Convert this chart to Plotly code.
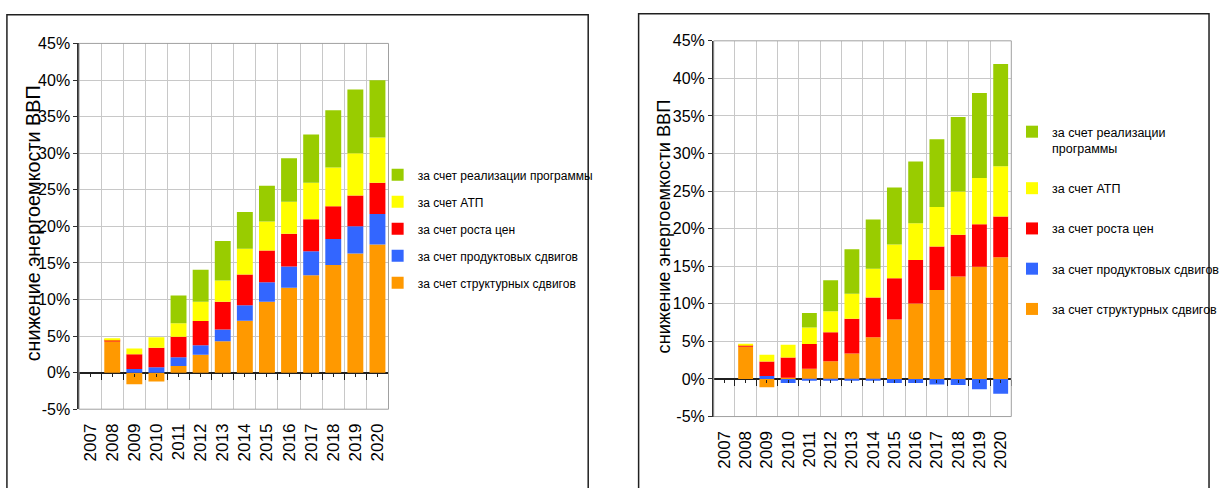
import plotly.graph_objects as go

years = ['2007', '2008', '2009', '2010', '2011', '2012', '2013',
         '2014', '2015', '2016', '2017', '2018', '2019', '2020']

series_names = ['за счет структурных сдвигов', 'за счет продуктовых сдвигов',
                'за счет роста цен', 'за счет АТП', 'за счет реализации программы']
series_names_right = ['за счет структурных сдвигов', 'за счет продуктовых сдвигов',
                      'за счет роста цен', 'за счет АТП', 'за счет реализации<br>программы']
colors = ['#FF9900', '#3366FF', '#FF0000', '#FFFF00', '#99CC00']

# Left chart (percent)
L_struct = [0, 4.3, -1.6, -1.2, 0.9, 2.45, 4.3, 7.1, 9.7, 11.6, 13.3, 14.7, 16.3, 17.5]
L_prod = [0, 0, 0.5, 0.75, 1.2, 1.3, 1.6, 2.1, 2.65, 2.9, 3.3, 3.55, 3.7, 4.2]
L_price = [0, 0.2, 2.0, 2.65, 2.8, 3.3, 3.8, 4.2, 4.35, 4.5, 4.35, 4.5, 4.2, 4.25]
L_atp = [0, 0.2, 0.8, 1.45, 1.85, 2.65, 2.9, 3.55, 3.95, 4.35, 5.0, 5.3, 5.8, 6.2]
L_prog = [0, 0, 0, 0, 3.8, 4.35, 5.4, 5.0, 4.9, 5.95, 6.6, 7.8, 8.7, 7.8]

# Right chart (percent)
R_struct = [0, 4.3, -1.1, 0.15, 1.35, 2.35, 3.4, 5.55, 7.9, 10.05, 11.85, 13.65, 14.95, 16.2]
R_prod = [0, 0, 0.4, -0.55, -0.17, -0.17, -0.17, -0.17, -0.55, -0.55, -0.72, -0.8, -1.35, -1.95]
R_price = [0, 0.2, 1.92, 2.72, 3.32, 3.86, 4.6, 5.28, 5.5, 5.79, 5.79, 5.53, 5.64, 5.42]
R_atp = [0, 0.17, 0.9, 1.67, 2.18, 2.82, 3.34, 3.85, 4.49, 4.88, 5.26, 5.78, 6.17, 6.68]
R_prog = [0, 0, 0, 0, 1.93, 4.11, 5.91, 6.55, 7.58, 8.22, 8.99, 9.89, 11.3, 13.61]

y_ticks = [-5, 0, 5, 10, 15, 20, 25, 30, 35, 40, 45]
y_ticktext = ['%d%%' % v for v in y_ticks]
y_title = 'снижение энергоемкости ВВП'

FONT = 'Liberation Sans, Arial, sans-serif'
W, H = 1225, 488

fig = go.Figure()

left_data = [L_struct, L_prod, L_price, L_atp, L_prog]
right_data = [R_struct, R_prod, R_price, R_atp, R_prog]

for i, (vals, name, col) in enumerate(zip(left_data, series_names, colors)):
    fig.add_trace(go.Bar(x=years, y=vals, name=name, marker_color=col,
                         marker_line_width=0, width=0.72,
                         xaxis='x', yaxis='y', legend='legend',
                         legendgroup='L%d' % i, legendrank=10 - i, hoverinfo='skip'))
for i, (vals, name, col) in enumerate(zip(right_data, series_names_right, colors)):
    fig.add_trace(go.Bar(x=years, y=vals, name=name, marker_color=col,
                         marker_line_width=0, width=0.7,
                         xaxis='x2', yaxis='y2', legend='legend2',
                         legendgroup='R%d' % i, legendrank=10 - i, hoverinfo='skip'))

def px2x(p):
    return p / W

def px2y(p):
    return 1 - p / H

L_dom_x = [px2x(80), px2x(393)]
L_dom_y = [px2y(415.7), px2y(36.7)]
R_dom_x = [px2x(722), px2x(1023)]
R_dom_y = [px2y(423.3), px2y(34)]

def zero_pos(dom):
    return dom[0] + (0 - (-5)) / 50 * (dom[1] - dom[0])

common_x = dict(type='category', showgrid=True, gridcolor='#C8C8C8', gridwidth=1,
                tickson='boundaries', ticks='', tickangle=-90,
                tickmode='array', tickvals=years, ticktext=years,
                showline=False, zeroline=False, ticklabelstandoff=10)
common_y = dict(range=[-5, 45], tickmode='array', tickvals=y_ticks, ticktext=y_ticktext,
                showgrid=True,
                gridcolor='#C8C8C8', gridwidth=1, showline=True, linecolor='#303030',
                linewidth=1.5, ticks='outside', ticklen=4, tickcolor='#303030',
                zeroline=True, zerolinecolor='#202020', zerolinewidth=1.5,
                ticklabelstandoff=0)

tick_axis = dict(anchor='free', range=[-0.5, 13.5], tickmode='array',
                 tickvals=[k - 0.5 for k in range(15)],
                 ticks='outside', ticklen=6, tickcolor='#202020', showticklabels=False,
                 showgrid=False, zeroline=False, showline=False,
                 minor=dict(tickvals=list(range(14)), ticks='outside', ticklen=3,
                            tickcolor='#202020'))

fig.update_layout(
    width=W, height=H,
    margin=dict(l=0, r=0, t=0, b=0),
    paper_bgcolor='white', plot_bgcolor='white',
    barmode='relative',
    font=dict(family=FONT, color='black'),
    xaxis=dict(domain=L_dom_x, anchor='y', tickfont=dict(size=17), **common_x),
    yaxis=dict(domain=L_dom_y, anchor='x', tickfont=dict(size=16), **common_y),
    xaxis2=dict(domain=R_dom_x, anchor='y2', tickfont=dict(size=17), **common_x),
    yaxis2=dict(domain=R_dom_y, anchor='x2', tickfont=dict(size=16), **common_y),
    xaxis3=dict(overlaying='x', position=zero_pos(L_dom_y), **tick_axis),
    xaxis4=dict(overlaying='x2', position=zero_pos(R_dom_y), **tick_axis),
    legend=dict(x=px2x(382), y=px2y(158), xanchor='left', yanchor='top',
                traceorder='grouped', tracegroupgap=8,
                font=dict(size=12, family=FONT), bgcolor='rgba(0,0,0,0)',
                itemwidth=30, valign='top'),
    legend2=dict(x=px2x(1024), y=px2y(113), xanchor='left', yanchor='top',
                 traceorder='grouped', tracegroupgap=21,
                 font=dict(size=12.5, family=FONT), bgcolor='rgba(0,0,0,0)',
                 itemwidth=30, valign='top'),
    showlegend=True,
)

# invisible traces so overlay tick axes render
fig.add_trace(go.Scatter(x=[0], y=[0], xaxis='x3', yaxis='y', mode='markers',
                         marker=dict(opacity=0), showlegend=False, hoverinfo='skip'))
fig.add_trace(go.Scatter(x=[0], y=[0], xaxis='x4', yaxis='y2', mode='markers',
                         marker=dict(opacity=0), showlegend=False, hoverinfo='skip'))

annotations = [
    dict(text=y_title, textangle=-90, x=px2x(33), y=px2y(223.5), xref='paper', yref='paper',
         xanchor='center', yanchor='middle',
         showarrow=False, font=dict(size=19.8, family=FONT)),
    dict(text=y_title, textangle=-90, x=px2x(672), y=px2y(226), xref='paper', yref='paper',
         xanchor='center', yanchor='middle',
         showarrow=False, font=dict(size=18.2, family=FONT)),
]
fig.update_layout(annotations=annotations)

shapes = [
    # panel frames
    dict(type='rect', xref='paper', yref='paper', x0=px2x(7), x1=px2x(595),
         y0=-0.05, y1=px2y(7), line=dict(color='#202020', width=1.5)),
    dict(type='rect', xref='paper', yref='paper', x0=px2x(646), x1=px2x(1223),
         y0=-0.05, y1=px2y(6), line=dict(color='#202020', width=1.5)),
    # plot area borders (top/right)
    dict(type='rect', xref='x domain', yref='y domain', x0=0, x1=1, y0=0, y1=1,
         line=dict(color='#A0A0A0', width=1)),
    dict(type='rect', xref='x2 domain', yref='y2 domain', x0=0, x1=1, y0=0, y1=1,
         line=dict(color='#A0A0A0', width=1)),
]
fig.update_layout(shapes=shapes)

fig.write_html('out.html', config={'displayModeBar': False},
               post_script="document.body.style.margin='0';document.body.style.overflow='hidden';")
